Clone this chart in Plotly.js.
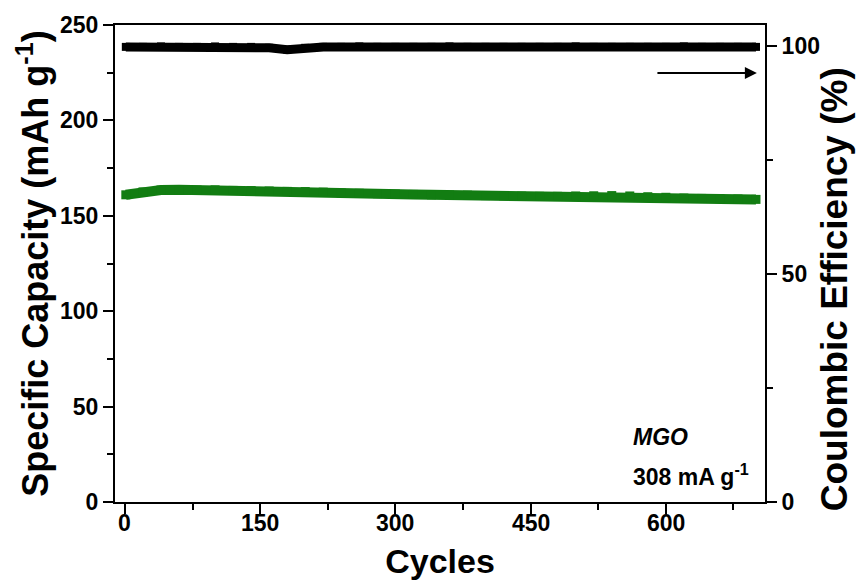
<!DOCTYPE html>
<html><head><meta charset="utf-8">
<script src="https://cdn.plot.ly/plotly-3.0.1.min.js"></script>
<style>html,body{margin:0;padding:0;background:#fff;}#chart{width:857px;height:580px;}</style>
</head><body><div id="chart"></div>
<script>
const cycles = [1,20,40,60,80,100,120,140,160,180,200,220,240,260,280,300,320,340,360,380,400,420,440,460,480,500,520,540,560,580,600,620,640,660,680,700];
const capacity = [161.0,162.5,163.5,163.6,163.5,163.6,163.3,163.2,163.0,162.8,162.7,162.4,162.0,161.8,161.6,161.4,161.2,161.0,160.9,160.8,160.6,160.5,160.3,160.2,160.2,160.4,160.5,160.6,160.4,160.0,159.7,159.3,159.1,159.0,158.8,158.6];
const efficiency = [99.8,99.8,99.9,99.8,99.8,99.9,99.8,99.8,99.6,99.2,99.6,99.8,99.8,99.9,99.8,99.8,99.8,99.8,99.9,99.8,99.8,99.8,99.8,99.8,99.8,99.9,99.8,99.8,99.8,99.8,99.8,99.9,99.8,99.8,99.8,99.8];
const xTicks = [0,150,300,450,600];

const fontFam = 'Liberation Sans, Arial, sans-serif';
const tickFont = {family: fontFam, size: 23, color: '#000', weight: 'bold'};

const traces = [
  {x: cycles, y: capacity, type: 'scatter', mode: 'lines+markers', yaxis: 'y',
   line: {color: '#127d12', width: 10}, marker: {symbol: 'square', size: 9, color: '#127d12'}, hoverinfo: 'skip'},
  {x: cycles, y: efficiency, type: 'scatter', mode: 'lines+markers', yaxis: 'y2',
   line: {color: '#000', width: 9}, marker: {symbol: 'square', size: 8, color: '#000'}, hoverinfo: 'skip'}
];

const xTickAnnotations = xTicks.map(v => ({
  x: v, y: 0, xref: 'x', yref: 'paper', yshift: -21, xanchor: 'center', yanchor: 'middle',
  showarrow: false, text: '<b>' + v + '</b>', font: {family: fontFam, size: 23, color: '#000'}
}));

const layout = {
  width: 857, height: 580,
  margin: {l: 115, r: 92, t: 25, b: 78},
  paper_bgcolor: '#fff', plot_bgcolor: '#fff',
  showlegend: false,
  font: {family: fontFam, color: '#000'},
  xaxis: {
    range: [-11, 710], tickvals: xTicks, showticklabels: false,
    ticks: 'outside', ticklen: 10, tickwidth: 2, tickcolor: '#000',
    minor: {dtick: 75, tick0: 0, ticks: 'outside', ticklen: 6, tickwidth: 2, tickcolor: '#000'},
    showline: true, linewidth: 2, linecolor: '#000', mirror: true,
    showgrid: false, zeroline: false,
    title: {text: 'Cycles', font: {family: fontFam, size: 34, weight: 'bold', color: '#000'}, standoff: 36}
  },
  yaxis: {
    range: [0, 250], dtick: 50, tick0: 0,
    ticks: 'outside', ticklen: 10, tickwidth: 2, tickcolor: '#000',
    minor: {dtick: 25, tick0: 0, ticks: 'outside', ticklen: 6, tickwidth: 2, tickcolor: '#000'},
    showline: true, linewidth: 2, linecolor: '#000',
    showgrid: false, zeroline: false, tickfont: tickFont,
    title: {text: 'Specific Capacity (mAh g<sup>-1</sup>)', font: {family: fontFam, size: 36, weight: 'bold', color: '#000'}, standoff: 0}
  },
  yaxis2: {
    overlaying: 'y', side: 'right', range: [0, 104.6], tickvals: [0,50,100],
    ticks: 'outside', ticklen: 10, tickwidth: 2, tickcolor: '#000',
    minor: {tickvals: [25,75], ticks: 'outside', ticklen: 6, tickwidth: 2, tickcolor: '#000'},
    showline: true, linewidth: 2, linecolor: '#000',
    showgrid: false, zeroline: false, tickfont: tickFont
  },
  annotations: xTickAnnotations.concat([
    {x: 1.107, y: 0.445, xref: 'paper', yref: 'paper', xanchor: 'center', yanchor: 'middle', showarrow: false,
     textangle: -90, text: '<b>Coulombic Efficiency (%)</b>', font: {family: fontFam, size: 37, color: '#000'}},
    {x: 701, y: 94.1, xref: 'x', yref: 'y2', ax: 589, ay: 94.1, axref: 'x', ayref: 'y2',
     showarrow: true, arrowhead: 2, arrowsize: 1.2, arrowwidth: 2, arrowcolor: '#000', text: ''},
    {x: 561, y: 34, xref: 'x', yref: 'y', xanchor: 'left', yanchor: 'middle', showarrow: false,
     text: '<b><i>MGO</i></b>', font: {family: fontFam, size: 23, color: '#000'}},
    {x: 561, y: 14, xref: 'x', yref: 'y', xanchor: 'left', yanchor: 'middle', showarrow: false,
     text: '<b>308 mA g<sup>-1</sup></b>', font: {family: fontFam, size: 23, color: '#000'}}
  ])
};

Plotly.newPlot('chart', traces, layout, {staticPlot: true, displayModeBar: false});
</script>
</body></html>
